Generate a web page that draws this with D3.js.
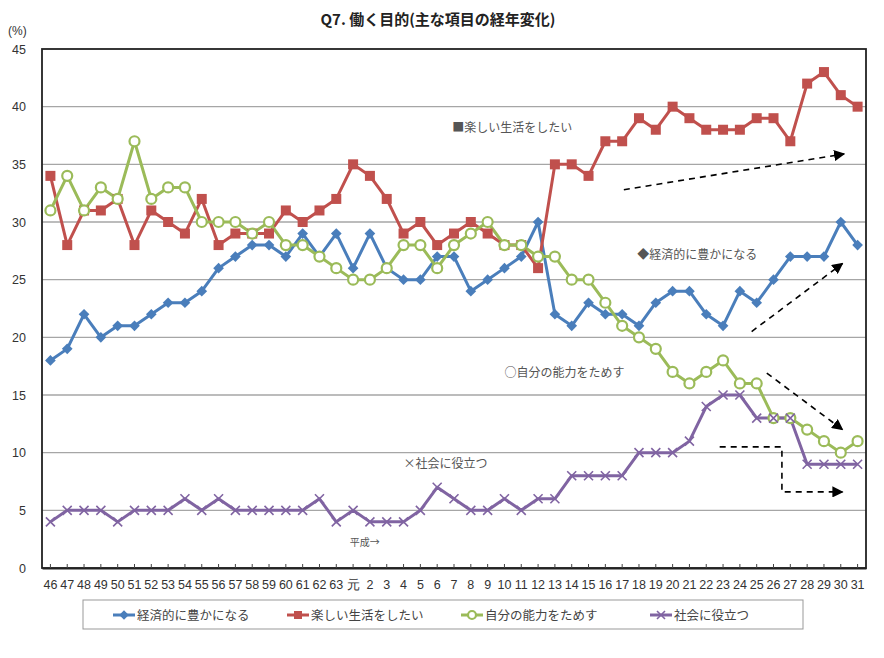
<!DOCTYPE html>
<html><head><meta charset="utf-8">
<script src="https://cdn.jsdelivr.net/npm/d3@7"></script>
<style>
body{margin:0;background:#fff;}
svg text{font-family:"Noto Sans CJK JP","Liberation Sans",sans-serif;}
</style></head>
<body><svg id="c" width="884" height="658"></svg>
<script>
const categories = ["46","47","48","49","50","51","52","53","54","55","56","57","58","59","60","61","62","63","元","2","3","4","5","6","7","8","9","10","11","12","13","14","15","16","17","18","19","20","21","22","23","24","25","26","27","28","29","30","31"];
const keizai = [18,19,22,20,21,21,22,23,23,24,26,27,28,28,27,29,27,29,26,29,26,25,25,27,27,24,25,26,27,30,22,21,23,22,22,21,23,24,24,22,21,24,23,25,27,27,27,30,28];
const tanoshii = [34,28,31,31,32,28,31,30,29,32,28,29,29,29,31,30,31,32,35,34,32,29,30,28,29,30,29,28,28,26,35,35,34,37,37,39,38,40,39,38,38,38,39,39,37,42,43,41,40];
const nouryoku = [31,34,31,33,32,37,32,33,33,30,30,30,29,30,28,28,27,26,25,25,26,28,28,26,28,29,30,28,28,27,27,25,25,23,21,20,19,17,16,17,18,16,16,13,13,12,11,10,11];
const shakai = [4,5,5,5,4,5,5,5,6,5,6,5,5,5,5,5,6,4,5,4,4,4,5,7,6,5,5,6,5,6,6,8,8,8,8,10,10,10,11,14,15,15,13,13,13,9,9,9,9];
const yTicks = [0,5,10,15,20,25,30,35,40,45];
const seriesNames = ["経済的に豊かになる","楽しい生活をしたい","自分の能力をためす","社会に役立つ"];
const title = "Q7. 働く目的(主な項目の経年変化)";

const series = [
  {name:seriesNames[0], values:keizai, color:"#4A7EBB", marker:"diamond"},
  {name:seriesNames[1], values:tanoshii, color:"#C0504D", marker:"square"},
  {name:seriesNames[2], values:nouryoku, color:"#9BBB59", marker:"circle"},
  {name:seriesNames[3], values:shakai, color:"#8064A2", marker:"cross"}
];

const svg = d3.select("#c");
const L=42, R=866, T=49, B=568;
const x = d3.scaleBand().domain(categories).range([L,R]);
const y = d3.scaleLinear().domain([0,45]).range([B,T]);
const xi = i => x(categories[0]) + x.bandwidth()*(i+0.5);

// title
svg.append("text").attr("x",438).attr("y",25).attr("text-anchor","middle")
  .attr("font-size",15).attr("font-weight","bold").attr("fill","#222").text(title);
svg.append("text").attr("x",8).attr("y",35).attr("font-size",12).attr("fill","#333")
  .style("font-family","Liberation Sans Narrow, Liberation Sans").text("(%)");

// gridlines
svg.append("g").selectAll("line").data(yTicks.filter(d=>d>0&&d<45)).join("line")
  .attr("x1",L).attr("x2",R).attr("y1",d=>y(d)).attr("y2",d=>y(d))
  .attr("stroke","#a6a6a6").attr("stroke-width",1.3);

// frame
svg.append("rect").attr("x",L).attr("y",T).attr("width",R-L).attr("height",B-T)
  .attr("fill","none").attr("stroke","#222").attr("stroke-width",1.8);

// y axis
const ya = svg.append("g").attr("transform",`translate(${L},0)`)
  .call(d3.axisLeft(y).tickValues(yTicks).tickSize(0).tickPadding(16));
ya.select(".domain").remove();
ya.selectAll("text").attr("font-size",12.5).attr("fill","#333")
  .style("font-family","Liberation Sans Narrow, Liberation Sans");

// x axis
const xa = svg.append("g").attr("transform",`translate(0,${B})`)
  .call(d3.axisBottom(x).tickSizeInner(-4).tickSizeOuter(0).tickPadding(12));
xa.select(".domain").attr("stroke","#222").attr("stroke-width",1.8);
xa.selectAll(".tick line").attr("stroke","#444");
xa.selectAll("text").attr("font-size",12.5).attr("fill","#333")
  .style("font-family","Liberation Sans, sans-serif").attr("letter-spacing","0");

// lines
const line = d3.line().x((d,i)=>xi(i)).y(d=>y(d));
function drawMarker(g, type, color, size){
  if(type==="diamond"){
    g.append("path").attr("d",d3.symbol(d3.symbolDiamond2,size*size*0.9)()).attr("fill",color);
  } else if(type==="square"){
    g.append("rect").attr("x",-size/2).attr("y",-size/2).attr("width",size).attr("height",size).attr("fill",color);
  } else if(type==="circle"){
    g.append("circle").attr("r",size/2).attr("fill","#fff").attr("stroke",color).attr("stroke-width",2.2);
  } else {
    const s=size/2;
    g.append("path").attr("d",`M${-s},${-s}L${s},${s}M${-s},${s}L${s},${-s}`).attr("stroke",color).attr("stroke-width",1.6);
  }
}
const markerSize = {diamond:9, square:10, circle:10, cross:9};
series.forEach(s=>{
  svg.append("path").datum(s.values).attr("d",line).attr("fill","none")
    .attr("stroke",s.color).attr("stroke-width",3).attr("stroke-linejoin","round");
});
series.forEach(s=>{
  const g = svg.append("g");
  s.values.forEach((v,i)=>{
    const m = g.append("g").attr("transform",`translate(${xi(i)},${y(v)})`);
    drawMarker(m, s.marker, s.color, markerSize[s.marker]);
  });
});

// annotations (placed in data space: category index, value)
const annos = [
  {t:"■楽しい生活をしたい", i:23.9, v:37.8},
  {t:"◆経済的に豊かになる", i:34.9, v:26.8},
  {t:"○自分の能力をためす", i:27.0, v:16.6},
  {t:"×社会に役立つ", i:21.0, v:8.7}
];
annos.forEach(a=>{
  svg.append("text").attr("x",xi(a.i)).attr("y",y(a.v)).attr("font-size",12)
    .attr("fill","#555").text(a.t);
});
svg.append("text").attr("x",xi(17.8)).attr("y",y(1.9)).attr("font-size",10).attr("fill","#555").text("平成→");

// dashed arrows
svg.append("defs").append("marker").attr("id","ah").attr("viewBox","0 0 10 10")
  .attr("refX",9).attr("refY",5).attr("markerWidth",7).attr("markerHeight",7)
  .attr("orient","auto-start-reverse").append("path").attr("d","M0,0L10,5L0,10z").attr("fill","#000");
const arrows = [
  [[34.1,32.8],[47.2,35.9]],
  [[41.7,20.5],[47.1,26.4]],
  [[42.6,16.9],[47.1,12.0]],
  [[39.8,10.5],[43.5,10.5],[43.5,6.6],[47.1,6.6]]
];
const aline = d3.line().x(d=>xi(d[0])).y(d=>y(d[1]));
arrows.forEach(a=>{
  svg.append("path").datum(a).attr("d",aline).attr("fill","none").attr("stroke","#000")
    .attr("stroke-width",1.6).attr("stroke-dasharray","6,5").attr("marker-end","url(#ah)");
});

// legend
const lg = svg.append("g");
lg.append("rect").attr("x",83).attr("y",600).attr("width",720).attr("height",29)
  .attr("fill","#fff").attr("stroke","#999").attr("stroke-width",1);
const lx = [113,287,461,650];
series.forEach((s,k)=>{
  const g = lg.append("g").attr("transform",`translate(${lx[k]},615)`);
  g.append("line").attr("x1",0).attr("x2",22).attr("stroke",s.color).attr("stroke-width",3);
  const m = g.append("g").attr("transform","translate(11,0)");
  drawMarker(m, s.marker, s.color, 8);
  g.append("text").attr("x",24).attr("y",5).attr("font-size",12.5).attr("fill","#444").text(s.name);
});
</script></body></html>
